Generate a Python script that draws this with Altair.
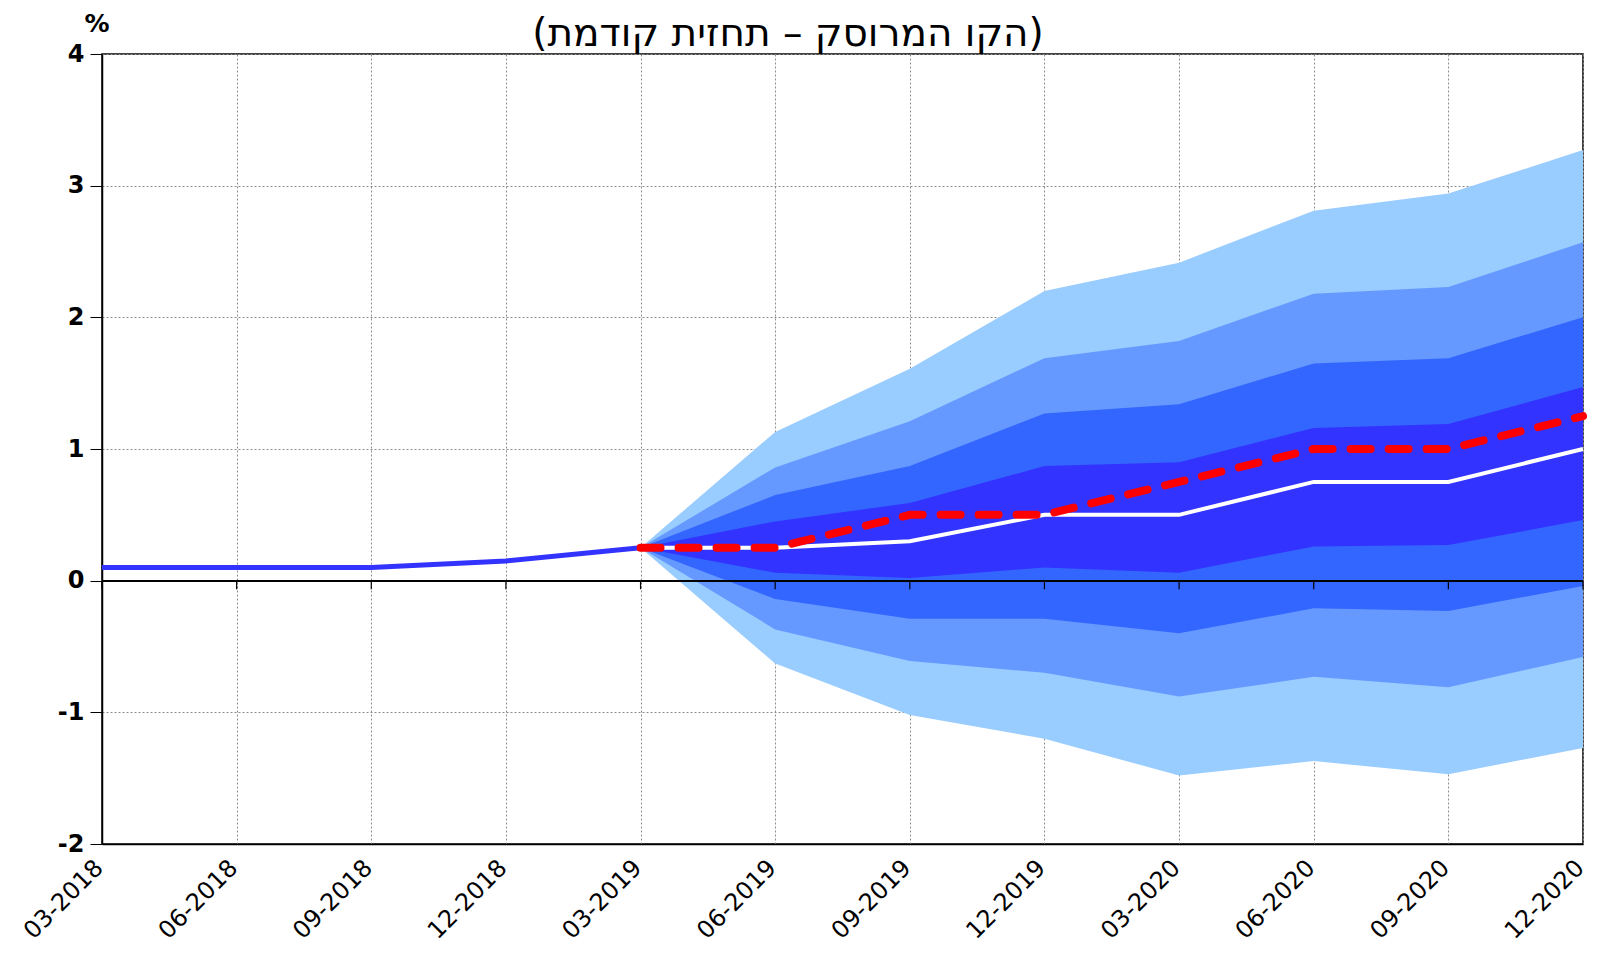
import altair as alt
import pandas as pd

dates = ["03-2018", "06-2018", "09-2018", "12-2018", "03-2019", "06-2019",
         "09-2019", "12-2019", "03-2020", "06-2020", "09-2020", "12-2020"]
N = None
history = [0.10, 0.10, 0.10, 0.15, 0.25, N, N, N, N, N, N, N]
forecast = [N, N, N, N, 0.25, 0.25, 0.30, 0.50, 0.50, 0.75, 0.75, 1.00]
previous = [N, N, N, N, 0.25, 0.25, 0.50, 0.50, 0.75, 1.00, 1.00, 1.25]
hi3 = [N, N, N, N, 0.25, 1.13, 1.61, 2.20, 2.415, 2.81, 2.94, 3.27]
hi2 = [N, N, N, N, 0.25, 0.86, 1.21, 1.69, 1.82, 2.18, 2.23, 2.57]
hi1 = [N, N, N, N, 0.25, 0.65, 0.87, 1.27, 1.34, 1.65, 1.69, 2.00]
hi0 = [N, N, N, N, 0.25, 0.45, 0.59, 0.87, 0.90, 1.16, 1.19, 1.47]
lo0 = [N, N, N, N, 0.25, 0.06, 0.02, 0.10, 0.06, 0.26, 0.27, 0.46]
lo1 = [N, N, N, N, 0.25, -0.14, -0.29, -0.29, -0.40, -0.21, -0.23, -0.04]
lo2 = [N, N, N, N, 0.25, -0.37, -0.61, -0.70, -0.88, -0.73, -0.81, -0.58]
lo3 = [N, N, N, N, 0.25, -0.63, -1.02, -1.20, -1.48, -1.37, -1.47, -1.27]
y_ticks = [-2, -1, 0, 1, 2, 3, 4]
title_text = "(הקו המרוסק – תחזית קודמת)"
unit_text = "%"

df = pd.DataFrame({
    "date": dates, "history": history, "forecast": forecast, "previous": previous,
    "hi3": hi3, "hi2": hi2, "hi1": hi1, "hi0": hi0,
    "lo0": lo0, "lo1": lo1, "lo2": lo2, "lo3": lo3,
})

FONT = "DejaVu Sans"

x_enc = alt.X(
    "date:O", sort=dates, title=None,
    scale=alt.Scale(type="point", padding=0),
    axis=alt.Axis(
        labelAngle=315, labelAlign="right", labelBaseline="middle",
        labelFont=FONT, labelFontSize=24, labelColor="black", labelPadding=20,
        labelOffset=-3,
        ticks=False, grid=True, domain=True, labelOverlap=False,
    ),
)
y_scale = alt.Scale(domain=[-2, 4], nice=False, zero=False)
y_axis = alt.Axis(
    values=y_ticks, labelFont=FONT, labelFontSize=24, labelFontWeight="bold",
    labelColor="black", tickSize=12, tickColor="black", labelPadding=6,
    grid=True, domain=True,
    labelExpr="datum.value < 0 ? '-' + (-datum.value) : '' + datum.value",
)


def yq(field):
    return alt.Y(field, scale=y_scale, axis=y_axis, title=None)


base = alt.Chart(df)

bands = [("lo3", "hi3", "#99ccff"), ("lo2", "hi2", "#6699ff"),
         ("lo1", "hi1", "#3366ff"), ("lo0", "hi0", "#3333ff")]
layers = []
for lo, hi, col in bands:
    layers.append(
        base.mark_area(color=col, opacity=1, interpolate="linear").encode(
            x=x_enc, y=yq(f"{lo}:Q"), y2=f"{hi}:Q"
        )
    )

zero_line = base.mark_rule(color="black", strokeWidth=1.5).encode(
    y=alt.Y(datum=0, scale=y_scale, axis=y_axis, title=None)
)
zero_ticks = base.mark_rule(color="black", strokeWidth=1.2).encode(
    x=x_enc, y=alt.Y(datum=0, scale=y_scale, axis=y_axis, title=None),
    y2=alt.Y2(datum=-0.065),
)

hist_line = base.mark_line(color="#3333ff", strokeWidth=5).encode(
    x=x_enc, y=yq("history:Q")
)
fc_line = base.mark_line(color="white", strokeWidth=4).encode(
    x=x_enc, y=yq("forecast:Q")
)
prev_line = base.mark_line(color="#ff0000", strokeWidth=8, strokeDash=[20, 18],
                           strokeCap="round").encode(
    x=x_enc, y=yq("previous:Q")
)

title_mark = alt.Chart(pd.DataFrame({"t": [title_text]})).mark_text(
    font=FONT, fontSize=39, color="black", align="center", baseline="middle"
).encode(text="t:N", x=alt.value(686), y=alt.value(-20))

unit_mark = alt.Chart(pd.DataFrame({"t": [unit_text]})).mark_text(
    font=FONT, fontSize=25, fontWeight="bold", color="black",
    align="center", baseline="middle"
).encode(text="t:N", x=alt.value(-5), y=alt.value(-30))

chart = alt.layer(
    *layers, zero_line, zero_ticks, hist_line, fc_line, prev_line,
    title_mark, unit_mark
).properties(
    width=1481, height=790,
    autosize=alt.AutoSizeParams(type="none"),
    padding={"left": 94, "top": 46, "right": 8, "bottom": 108},
).configure_view(
    stroke="black", strokeWidth=1.5
).configure_axis(
    gridColor="#8c8c8c", gridDash=[2, 2], gridWidth=1,
    domainColor="black", domainWidth=1.5,
)

chart.save("out.html", embed_options={"renderer": "svg", "actions": False})
